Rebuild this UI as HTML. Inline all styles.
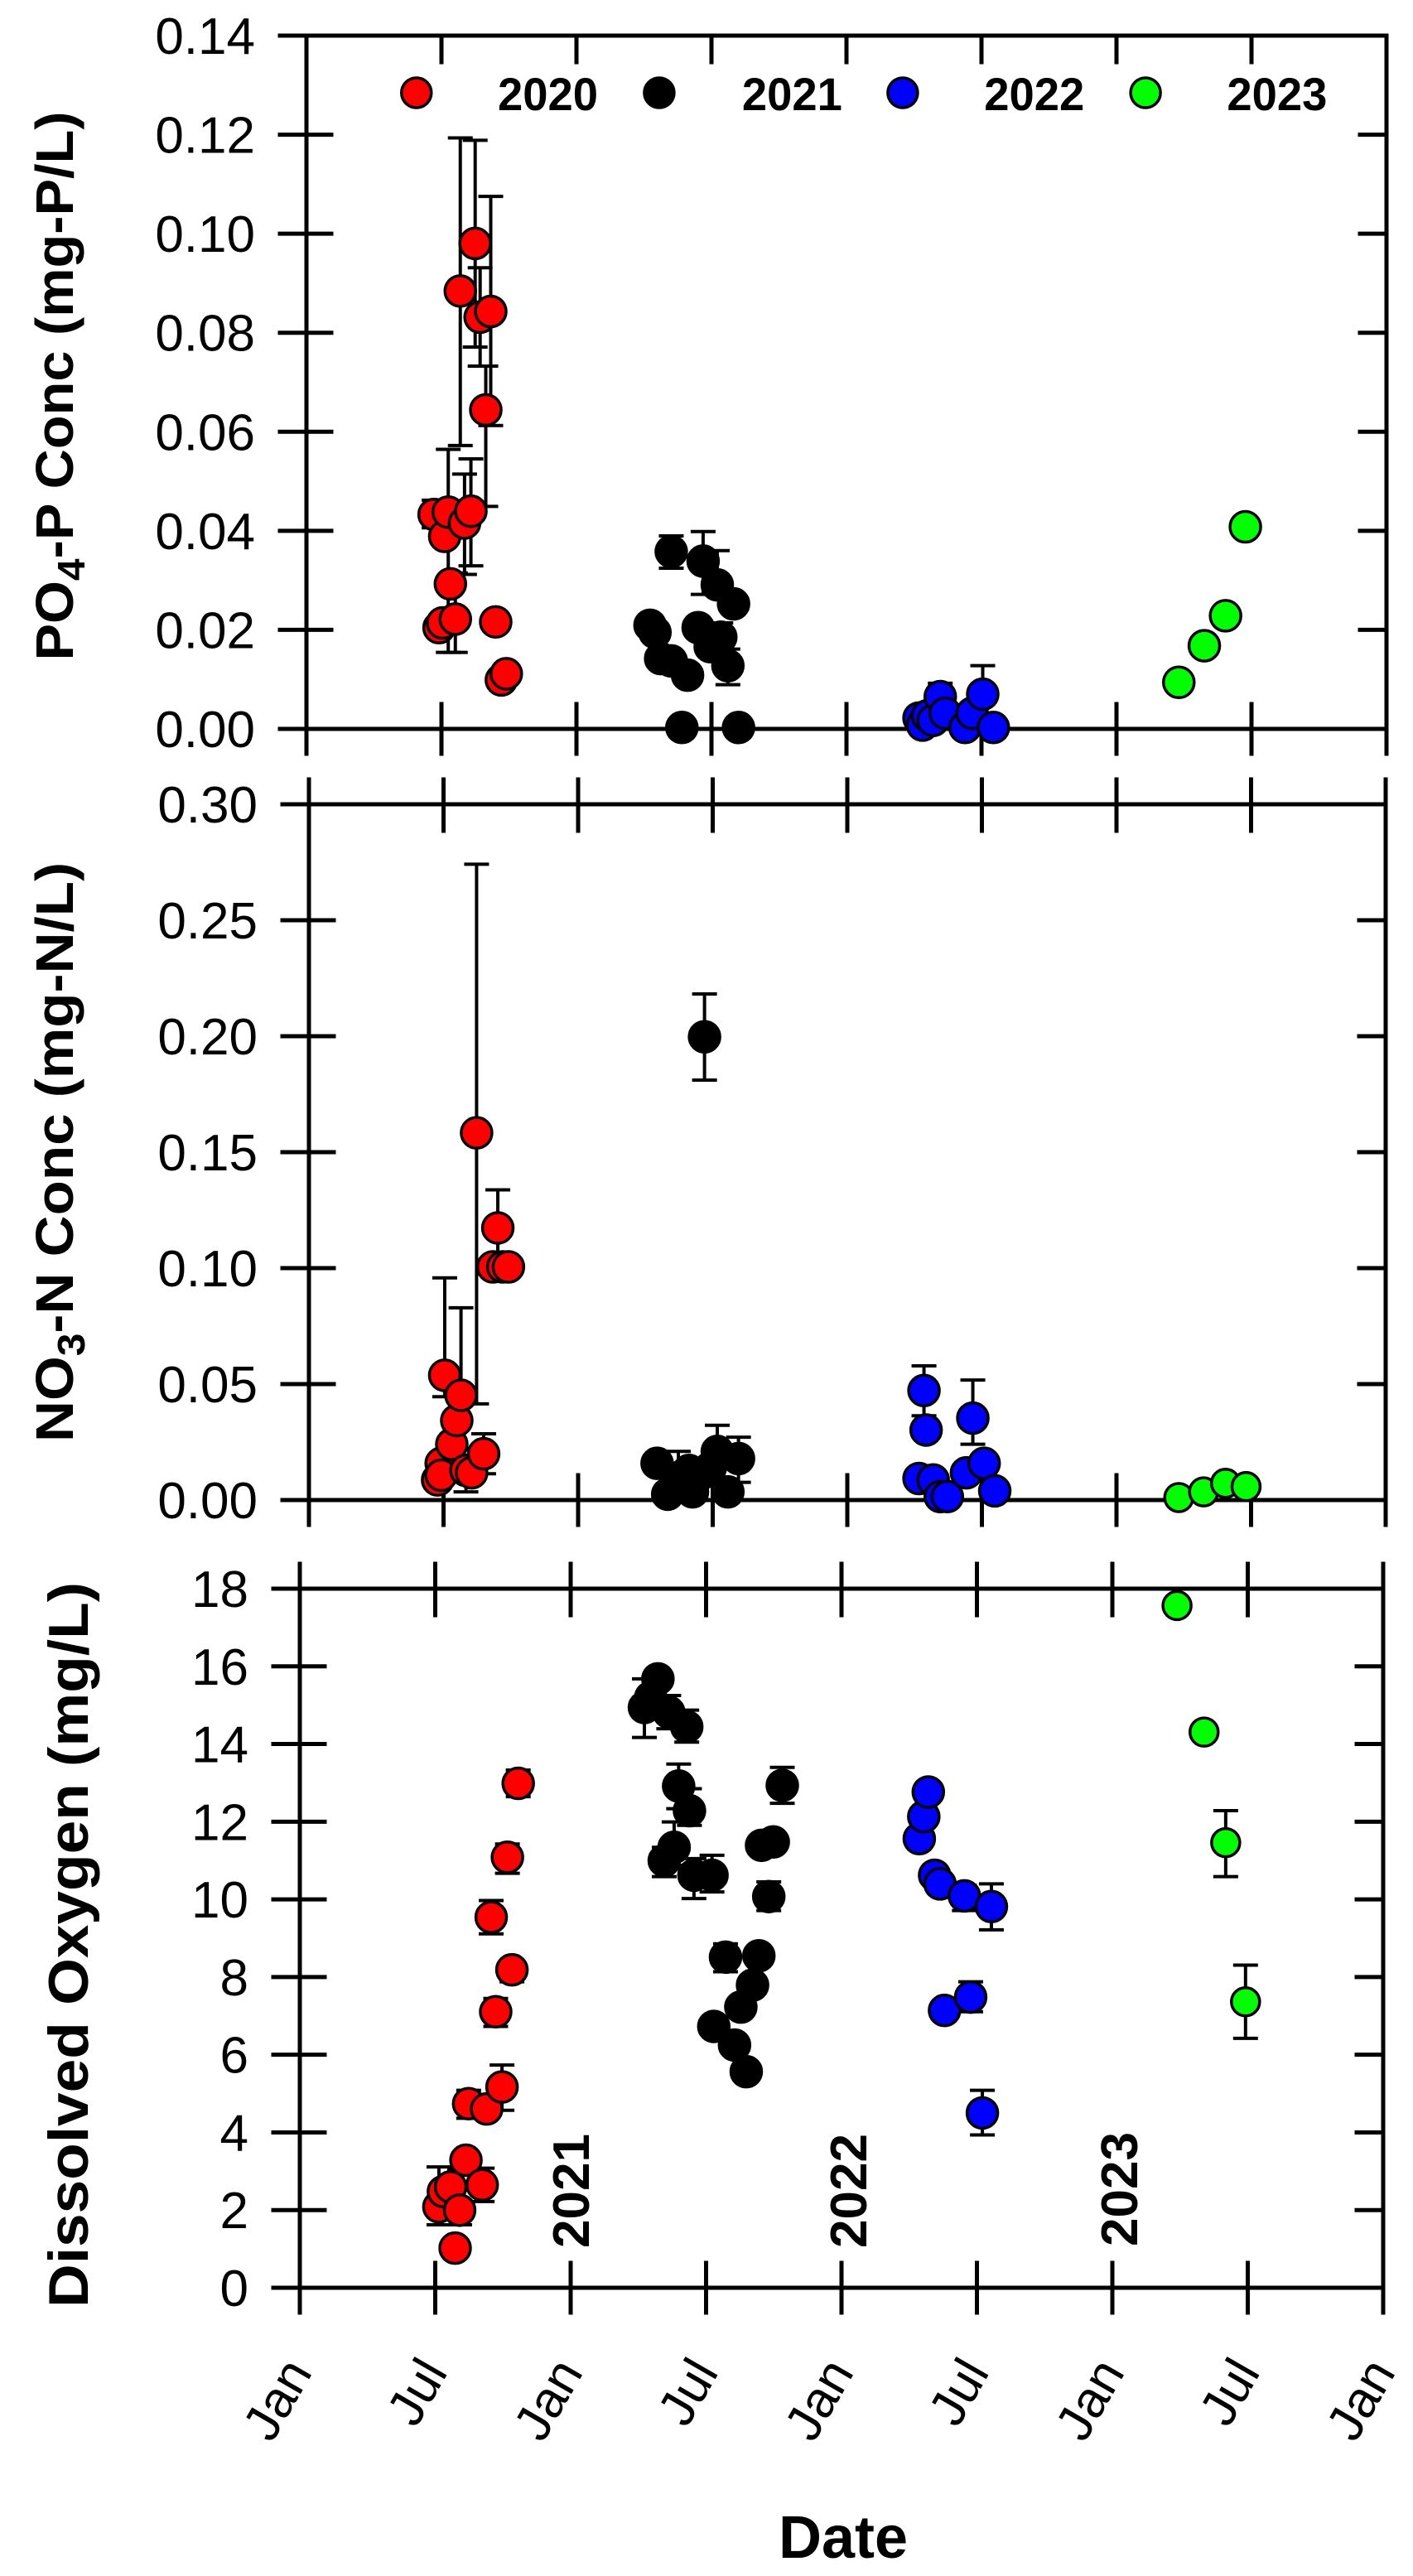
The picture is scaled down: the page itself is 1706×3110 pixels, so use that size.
<!DOCTYPE html>
<html><head><meta charset="utf-8"><style>
html,body{margin:0;padding:0;background:#fff;}
svg{display:block;font-family:"Liberation Sans",Arial,sans-serif;}
</style></head><body>
<svg id="s" xmlns="http://www.w3.org/2000/svg" width="1706" height="3110" viewBox="0 0 1706 3110">
<rect width="1706" height="3110" fill="#fff"/>
<g id="axes" stroke="#000" stroke-width="5" fill="none" stroke-linecap="square"></g>
<g id="err" stroke="#000" stroke-width="4" fill="none"></g>
<g id="pts" stroke="#000" stroke-width="3.5"></g>
<g id="txt" fill="#000"></g>
<text transform="translate(88,466) rotate(-90)" text-anchor="middle" font-weight="bold" font-size="64" textLength="663" lengthAdjust="spacingAndGlyphs">PO<tspan font-size="46" dy="14">4</tspan><tspan dy="-14">-P Conc (mg-P/L)</tspan></text>
<text transform="translate(88,1391) rotate(-90)" text-anchor="middle" font-weight="bold" font-size="64" textLength="700" lengthAdjust="spacingAndGlyphs">NO<tspan font-size="46" dy="14">3</tspan><tspan dy="-14">-N Conc (mg-N/L)</tspan></text>
<text transform="translate(106,2348) rotate(-90)" text-anchor="middle" font-weight="bold" font-size="68" textLength="876" lengthAdjust="spacingAndGlyphs">Dissolved Oxygen (mg/L)</text>
<text x="1018" y="3088" text-anchor="middle" font-weight="bold" font-size="72">Date</text>
<text transform="translate(711,2714) rotate(-90)" font-weight="bold" font-size="62">2021</text>
<text transform="translate(1046,2714) rotate(-90)" font-weight="bold" font-size="62">2022</text>
<text transform="translate(1373,2712) rotate(-90)" font-weight="bold" font-size="62">2023</text>
</svg>
<script>
var NS="http://www.w3.org/2000/svg";
function el(p,t,a,txt){var e=document.createElementNS(NS,t);for(var k in a)e.setAttribute(k,a[k]);if(txt!==undefined)e.textContent=txt;document.getElementById(p).appendChild(e);return e;}
function line(x1,y1,x2,y2){el('axes','line',{x1:x1,y1:y1,x2:x2,y2:y2});}
var panels=[
 {xL:370,xR:1674,yT:43,yB:880,max:0.14,step:0.02,dec:2,topCross:false,X:function(p){return 366+p/1.17},Y:function(p){return p/1.742}},
 {xL:373,xR:1673,yT:971,yB:1811,max:0.30,step:0.05,dec:2,topCross:true,X:function(p){return 366+p/1.17},Y:function(p){return 940+p/1.742}},
 {xL:362,xR:1670,yT:1918,yB:2762,max:18,step:2,dec:0,topCross:true,X:function(p){return p/0.919},Y:function(p){return 1850+p/1.244}}
];
panels.forEach(function(P,i){
 line(P.xL-32,P.yB,P.xR,P.yB);
 line(P.xL-32,P.yT,P.xR,P.yT);
 line(P.xL,P.yT-(P.topCross?30:0),P.xL,P.yB+30);
 line(P.xR,P.yT-(P.topCross?30:0),P.xR,P.yB);
 var n=Math.round(P.max/P.step);
 for(var j=0;j<=n;j++){
  var v=j*P.step,y=P.yB-(v/P.max)*(P.yB-P.yT);
  line(P.xL-32,y,P.xL+30,y);
  line(P.xR-32,y,P.xR,y);
  el('txt','text',{x:P.xL-62,y:y+22,'text-anchor':'end','font-size':62},v.toFixed(P.dec));
 }
 for(var k=1;k<8;k++){
  var x=P.xL+k*(P.xR-P.xL)/8;
  line(x,P.yT-(P.topCross?30:0),x,P.yT+32);
  line(x,P.yB-30,x,P.yB+30);
 }
 line(P.xR,P.yB-30,P.xR,P.yB+30);
 if(i==2){
  for(var k=0;k<=8;k++){
   var x=P.xL+k*(P.xR-P.xL)/8;
   el('txt','text',{transform:'translate('+(x+16)+',2864) rotate(-60)','text-anchor':'end','font-size':62},k%2?'Jul':'Jan');
  }
 }
});
var col={r:'#ff0000',k:'#000000',b:'#0000ff',g:'#00ff00'};
function draw(P,c,data,r){
 data.forEach(function(d){
  var x=P.X(d[0]),y=P.Y(d[1]);
  if(d.length>2){
   var y1=P.Y(d[2]),y2=P.Y(d[3]);
   el('err','line',{x1:x,y1:y1,x2:x,y2:y2});
   el('err','line',{x1:x-15,y1:y1,x2:x+15,y2:y1});
   el('err','line',{x1:x-15,y1:y2,x2:x+15,y2:y2});
  }
 });
 data.forEach(function(d){
  el('pts','circle',{cx:P.X(d[0]),cy:P.Y(d[1]),r:r,fill:col[c]});
 });
}
var A=panels[0],B=panels[1],C=panels[2];
draw(A,'r',[[185,1082,1052,1110],[192,1320],[197,1310],[200,1128],[205,1077,945,1372],[208,1228,1215,1232],[215,1302,1205,1372],[222,612,290,937],[228,1100,997,1208],[237,1075,965,1190],[243,512,295,730],[250,667,563,770],[258,862,770,1065],[265,655,413,895],[272,1308],[280,1430],[287,1417]],18.5);
draw(A,'k',[[490,1315],[497,1330],[505,1385],[520,1160,1127,1195],[520,1390],[535,1530],[543,1420],[558,1320],[565,1180,1118,1250],[575,1360],[585,1230,1158,1248],[590,1340,1310,1365],[600,1400,1365,1440],[608,1270],[615,1530]],18.5);
draw(A,'b',[[870,1510],[875,1525],[882,1505],[890,1515],[900,1465,1437,1480],[907,1500],[935,1530],[945,1500],[960,1460,1400,1480],[975,1530]],18.5);
draw(A,'g',[[1237,1435],[1273,1358],[1303,1295],[1331,1108]],18.5);
draw(B,'r',[[190,1475],[195,1440],[195,1465],[200,1255,1050,1300],[210,1400],[217,1350],[223,1297,1113,1315],[230,1455,1440,1500],[238,1460],[245,745,180,1315],[255,1420,1378,1462],[268,1027],[275,945,865,1000],[282,1027],[290,1027]],18.5);
draw(B,'k',[[500,1440],[515,1505],[530,1470,1415,1480],[545,1455],[550,1500],[565,1460],[567,543,453,634],[575,1450],[585,1415,1360,1440],[600,1500],[615,1430,1385,1480]],18.5);
draw(B,'b',[[870,1472],[877,1287,1235,1340],[880,1370],[890,1475],[900,1510],[910,1510],[937,1460],[946,1345,1265,1400],[962,1440],[977,1498]],18.5);
draw(B,'g',[[1237,1512],[1272,1500],[1303,1482],[1332,1489]],17);
draw(C,'r',[[487,1013,953,1040],[492,990],[500,983],[505,1075],[510,1018,957,1040],[517,943],[520,858,838,880],[535,980,955,1005],[540,866],[545,578,553,603],[550,720,700,742],[557,833,800,868],[563,488,468,512],[568,657,645,675],[575,377,357,397]],18.5);
draw(C,'k',[[715,263,220,308],[722,248],[730,220],[737,493,473,517],[742,270,245,295],[748,473,435,500],[753,381,348,415],[762,292,267,315],[765,418,385,440],[770,515,490,550],[790,515,485,540],[792,742],[805,638,618,660],[815,770],[822,713],[828,810],[835,680],[842,636],[845,470],[853,547,525,568],[858,465],[868,380,353,407]],18.5);
draw(C,'b',[[1020,460],[1025,427],[1030,390],[1037,515],[1043,528],[1048,718],[1070,546,530,568],[1077,698,675,720],[1090,872,838,905],[1100,562,528,597]],18.5);
draw(C,'g',[[1306,110],[1336,300],[1360,466,418,517],[1382,705,650,760]],17);
[['r',160,275,'2020'],['k',503,620,'2021'],['b',847,962,'2022'],['g',1190,1305,'2023']].forEach(function(l){
 el('pts','circle',{cx:366+l[1]/1.17,cy:112,r:18,fill:col[l[0]]});
 el('txt','text',{x:366+l[2]/1.17,y:133,'font-weight':'bold','font-size':56,textLength:121,lengthAdjust:'spacingAndGlyphs'},l[3]);
});
</script>
</body></html>
